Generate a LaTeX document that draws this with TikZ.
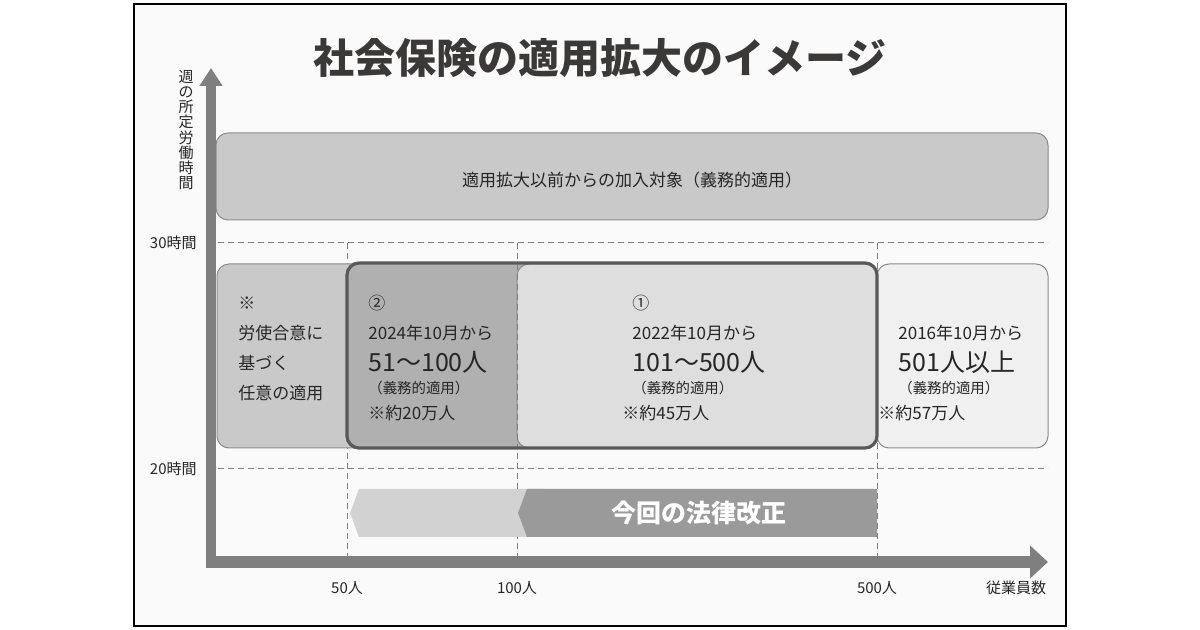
\documentclass[tikz,border=0pt]{standalone}
\usepackage{fontspec}
\setmainfont{Noto Sans CJK JP}
\usepackage{tikz}
\usetikzlibrary{arrows.meta,calc}
\definecolor{axisgray}{HTML}{7F7F7F}
\definecolor{titlegray}{HTML}{3B3838}
\definecolor{textdark}{HTML}{262626}
\definecolor{boxgray}{HTML}{C9C9C9}
\definecolor{darkbox}{HTML}{B0B0B0}
\definecolor{lightbox}{HTML}{DDDEDD}
\definecolor{palebox}{HTML}{F0F0F0}
\definecolor{edgegray}{HTML}{8C8C8C}
\definecolor{thickedge}{HTML}{595959}
\definecolor{bandlight}{HTML}{D2D2D2}
\definecolor{banddark}{HTML}{9A9A9A}

\begin{document}
\begin{tikzpicture}[x=0.5pt,y=-0.5pt,
    txt/.style={font=\fontsize{8.5}{10}\selectfont,text=textdark,inner sep=0pt,anchor=west},
    big/.style={font=\fontsize{12.5}{14}\selectfont,text=textdark,inner sep=0pt,anchor=west},
    small/.style={font=\fontsize{7.2}{9}\selectfont,text=textdark,inner sep=0pt,anchor=west},
    tick/.style={font=\fontsize{7.5}{9}\selectfont,text=textdark,inner sep=0pt},
    thinbox/.style={draw=edgegray,line width=0.5pt,rounded corners=6pt},
    grid/.style={draw=axisgray,line width=0.5pt,dash pattern=on 3pt off 2pt}]
              \useasboundingbox(0,0)rectangle(1200,630);
              \draw[line width=1pt,fill=white!98!black](134,4)rectangle(1066,626);
              % title
              \node[font=\bfseries\fontsize{20.5}{24}\selectfont,text=titlegray](title)at(600,58){社会保険の適用拡大のイメージ};
              % guide lines
              \draw[grid](218,243)--(1048,243);
              \draw[grid](218,469)--(1048,469);
              \foreach \x in {347,517,877}
                \draw[grid](\x,243)--(\x,556);
              % upper box
              \draw[thinbox,fill=boxgray](216,133)rectangle(1048,220);
              \node[txt,anchor=center](before)at(632,180){適用拡大以前からの加入対象（義務的適用）};
              % middle row
              \draw[thinbox,fill=boxgray](217,264)rectangle(370,448);
              \fill[darkbox,rounded corners=6pt](347,263)rectangle(877,448);
              \draw[thinbox,fill=lightbox](517,264)rectangle(877,448);
              \draw[grid](517,264)--(517,448);
              \draw[thinbox,fill=palebox](877,264)rectangle(1048,448);
              \draw[line width=1.6pt,thickedge,rounded corners=6pt](347,263)rectangle(877,448);
              \node[txt](opt1)at(238,303){※};
              \node[txt](opt2)at(238,333){労使合意に};
              \node[txt](opt3)at(238,363){基づく};
              \node[txt](opt4)at(238,393){任意の適用};
              \node[txt](b1)at(368,303){②};
              \node[txt](b2)at(368,333){2024年10月から};
              \node[big](b3)at(368,362){51～100人};
              \node[small](b4)at(368,388){（義務的適用）};
              \node[txt](b5)at(368,413){※約20万人};
              \node[txt](a1)at(632,303){①};
              \node[txt](a2)at(632,333){2022年10月から};
              \node[big](a3)at(632,362){101～500人};
              \node[small](a4)at(632,388){（義務的適用）};
              \node[txt](a5)at(622,413){※約45万人};
              \node[txt](c2)at(898,333){2016年10月から};
              \node[big](c3)at(898,362){501人以上};
              \node[small](c4)at(898,388){（義務的適用）};
              \node[txt](c5)at(878,413){※約57万人};
              % reform band
              \fill[bandlight](359,489)--(545,489)--(545,537)--(359,537)--(350,513)--cycle;
              \fill[banddark](527,489)--(877,489)--(877,537)--(527,537)--(518,513)--cycle;
              \node[font=\bfseries\fontsize{12.5}{14}\selectfont,text=white](reform)at(699,513){今回の法律改正};
              % axes
              \draw[axisgray,line width=5pt,-{Triangle[length=9pt,width=11pt]}](211,568)--(211,68);
              \draw[axisgray,line width=6pt,-{Triangle[length=9pt,width=16pt]}](206,562)--(1048,562);
              \node[tick,font=\fontsize{7.5}{7.6}\selectfont,align=center](ylab)at(186,130){週\\の\\所\\定\\労\\働\\時\\間};
              \node[tick,anchor=east](h30)at(197,243){30時間};
              \node[tick,anchor=east](h20)at(197,469){20時間};
              \node[tick](n50)at(347,588){50人};
              \node[tick](n100)at(517,588){100人};
              \node[tick](n500)at(877,588){500人};
              \node[tick](xlab)at(1016,588){従業員数};
            \end{tikzpicture}
\end{document}
